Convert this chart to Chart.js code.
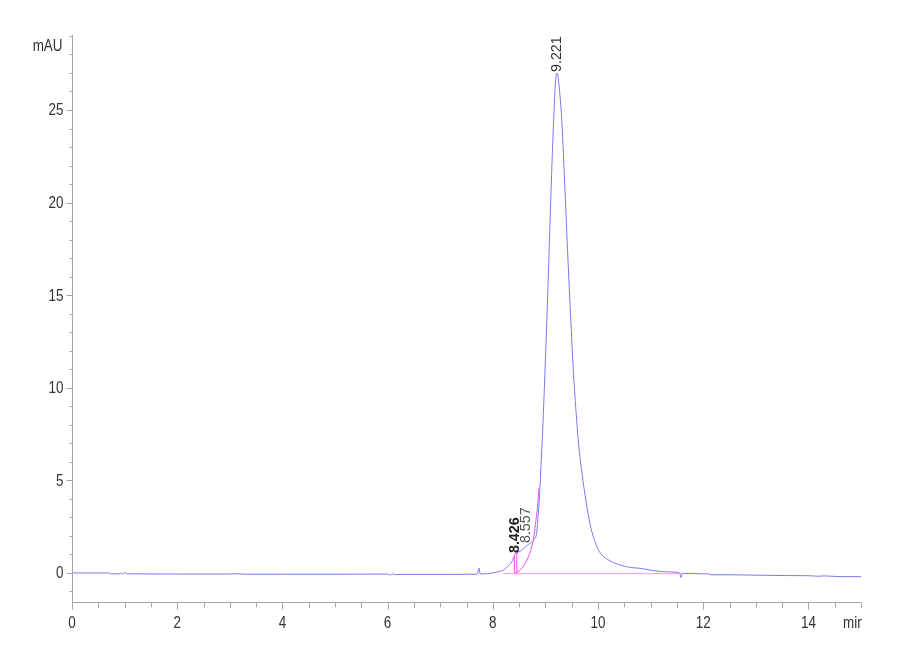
<!DOCTYPE html>
<html>
<head>
<meta charset="utf-8">
<script src="https://cdn.jsdelivr.net/npm/chart.js@4/dist/chart.umd.min.js"></script>
<style>
html,body{margin:0;padding:0;background:#fff;}
#c{display:block;}
</style>
</head>
<body>
<canvas id="c" width="900" height="660"></canvas>
<script>
// ---- data ----
const signalTimes = [0.0,0.7,0.75,0.9,0.93,0.96,1.0,1.05,2.0,3.0,3.1,3.3,4.0,5.0,6.0,6.05,6.1,6.15,6.2,7.0,7.7,7.74,7.76,7.9,8.0,8.1,8.2,8.3,8.36,8.4,8.43,8.48,8.52,8.56,8.62,8.7,8.78,8.83,8.86,8.89,8.92,8.96,9.0,9.05,9.1,9.15,9.19,9.22,9.26,9.31,9.36,9.42,9.48,9.53,9.58,9.63,9.7,9.77,9.86,9.96,10.05,10.2,10.4,10.6,10.8,11.0,11.3,11.55,11.58,11.6,12.0,12.1,12.15,12.5,13.0,13.5,14.0,14.2,14.3,14.6,15.0];
const signalValues = [0.0,0.0,-0.05,-0.05,0.0,-0.05,0.02,-0.05,-0.06,-0.06,-0.04,-0.07,-0.07,-0.07,-0.06,-0.12,-0.05,-0.1,-0.08,-0.08,-0.07,0.25,-0.06,-0.04,0.0,0.06,0.15,0.4,0.6,0.85,1.05,1.12,1.18,1.25,1.4,1.6,1.8,2.1,3.0,4.3,6.0,8.5,11.5,15.5,20.0,24.0,26.4,27.0,26.3,24.5,21.5,17.5,13.8,11.0,8.8,7.0,5.3,3.9,2.5,1.55,1.05,0.7,0.45,0.3,0.25,0.15,0.06,0.0,-0.25,-0.02,-0.05,-0.05,-0.1,-0.1,-0.12,-0.14,-0.15,-0.18,-0.16,-0.2,-0.2];
const skimTimes = [8.4,8.5,8.58,8.65,8.72,8.77,8.81,8.85,8.88];
const skimValues = [-0.04,0.1,0.35,0.7,1.2,1.8,2.6,3.6,4.6];
const baselineTimes = [8.2,11.58];
const baselineValues = [-0.04,-0.04];
const dropTimes = [8.41,8.456];
const dropTops = [0.95,1.1];
const peakLabels = ["8.426","8.557","9.221"];
const peakLabelTimes = [8.426,8.557,9.221];
const peakLabelValues = [1.02,1.45,27.0];
const xMajorTicks = [0,2,4,6,8,10,12,14];
const yMajorTicks = [0,5,10,15,20,25];
const xUnit = "min";
const yUnit = "mAU";

const BLUE = 'rgb(122,122,236)';
const PINK = 'rgb(236,80,236)';
const PINK_LIGHT = 'rgb(246,150,246)';
const AXIS = '#a6a6a6';
const SANS = '"Liberation Sans",Arial,sans-serif';
const SQUEEZE = 0.84;

function pts(xs, ys){ return xs.map((x,i)=>({x:x,y:ys[i]})); }

function narrowText(ctx, txt, x, y, align){
  ctx.save();
  ctx.translate(x, y);
  ctx.scale(SQUEEZE, 1);
  ctx.textAlign = align;
  ctx.fillText(txt, 0, 0);
  ctx.restore();
}

const datasets = [];
datasets.push({data:pts(baselineTimes,baselineValues),borderColor:PINK_LIGHT,borderWidth:1,pointRadius:0,tension:0});
dropTimes.forEach((t,i)=>{
  datasets.push({data:pts([t,t],[baselineValues[0],dropTops[i]]),borderColor:PINK,borderWidth:1,pointRadius:0,tension:0});
});
datasets.push({data:pts(skimTimes,skimValues),borderColor:PINK,borderWidth:1,pointRadius:0,cubicInterpolationMode:'monotone'});
datasets.push({data:pts(signalTimes,signalValues),borderColor:BLUE,borderWidth:1,pointRadius:0,cubicInterpolationMode:'monotone'});

const axesPlugin = {
  id:'axesPlugin',
  afterDraw(chart){
    const ctx = chart.ctx;
    const xs = chart.scales.x, ys = chart.scales.y;
    const ca = chart.chartArea;
    ctx.save();
    ctx.strokeStyle = AXIS;
    ctx.lineWidth = 1;
    const ax = Math.round(ca.left)+0.5;
    const ay = Math.round(ca.bottom)+0.5;
    ctx.beginPath();
    ctx.moveTo(ax, ca.top); ctx.lineTo(ax, ay);
    ctx.moveTo(ax, ay); ctx.lineTo(ca.right, ay);
    for(let k=0;k<=30;k++){
      const v = k*0.5;
      const px = Math.round(xs.getPixelForValue(v))+0.5;
      const len = (k%4===0)?7:5;
      ctx.moveTo(px, ay); ctx.lineTo(px, ay+len);
    }
    for(let v=Math.ceil(ys.min); v<=Math.floor(ys.max); v++){
      const py = Math.round(ys.getPixelForValue(v))+0.5;
      const len = (v%5===0)?6:3;
      ctx.moveTo(ax, py); ctx.lineTo(ax-len, py);
    }
    ctx.stroke();

    ctx.fillStyle = '#333';
    ctx.font = '16px '+SANS;
    ctx.textBaseline = 'alphabetic';
    xMajorTicks.forEach(v=>{
      narrowText(ctx, String(v), xs.getPixelForValue(v), 627.5, 'center');
    });
    ctx.textBaseline = 'middle';
    yMajorTicks.forEach(v=>{
      narrowText(ctx, String(v), ax-9, ys.getPixelForValue(v)+1, 'right');
    });
    ctx.font = '16px '+SANS;
    ctx.textBaseline = 'alphabetic';
    narrowText(ctx, yUnit, ax-10, 51, 'right');
    ctx.save();
    ctx.beginPath();
    ctx.rect(0,0,Math.round(ca.right)+1,660);
    ctx.clip();
    ctx.font = '16px '+SANS;
    narrowText(ctx, xUnit, 843, 628, 'left');
    ctx.restore();

    peakLabels.forEach((txt,i)=>{
      const px = xs.getPixelForValue(peakLabelTimes[i]);
      const py = ys.getPixelForValue(peakLabelValues[i]);
      ctx.save();
      ctx.translate(px, py-1);
      ctx.rotate(-Math.PI/2);
      ctx.textAlign = 'left';
      ctx.textBaseline = 'middle';
      if(i===0){ ctx.font = 'bold 15px '+SANS; ctx.fillStyle = '#222'; }
      else if(i===1){ ctx.font = '15px '+SANS; ctx.fillStyle = '#555'; ctx.translate(2,4); }
      else { ctx.font = '15px '+SANS; ctx.fillStyle = '#333'; }
      ctx.scale(0.95,1);
      ctx.fillText(txt, 0, 0);
      ctx.restore();
    });
    ctx.restore();
  }
};

new Chart(document.getElementById('c'), {
  type:'line',
  data:{datasets:datasets},
  options:{
    responsive:false,
    animation:false,
    devicePixelRatio:1,
    layout:{padding:{left:72,right:39,top:35,bottom:58}},
    plugins:{legend:{display:false},tooltip:{enabled:false}},
    scales:{
      x:{type:'linear',min:0,max:15,display:false},
      y:{type:'linear',min:-1.57,max:29.05,display:false}
    },
    elements:{line:{borderCapStyle:'butt'}}
  },
  plugins:[axesPlugin]
});
</script>
</body>
</html>
